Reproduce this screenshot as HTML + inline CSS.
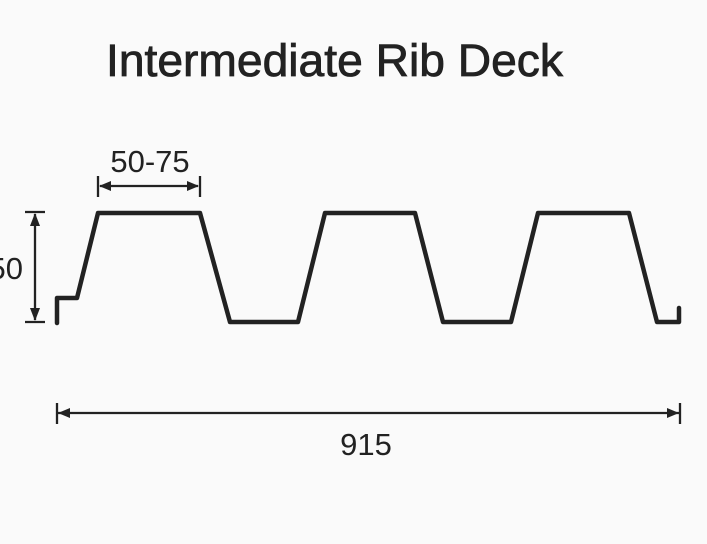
<!DOCTYPE html>
<html><head><style>html,body{margin:0;padding:0;background:#fafafa;}svg{display:block}</style></head>
<body>
<svg width="707" height="544" viewBox="0 0 707 544" xmlns="http://www.w3.org/2000/svg">
<rect width="707" height="544" fill="#fafafa"/>
<text x="106" y="76" font-family="Liberation Sans, sans-serif" font-size="45" fill="#222" stroke="#222" stroke-width="0.8" textLength="457" lengthAdjust="spacingAndGlyphs">Intermediate Rib Deck</text>
<path d="M57,323 L57,298 L77,298 L98,213 L200,213 L230,322 L298,322 L325,213 L415,213 L443,322 L511,322 L538,213 L629,213 L657,322 L679,322 L679,308" fill="none" stroke="#222" stroke-width="4.5" stroke-linejoin="round" stroke-linecap="round"/>
<g stroke="#222" stroke-width="2.3" fill="#222">
<line x1="98" y1="176" x2="98" y2="197"/><line x1="200" y1="176" x2="200" y2="197"/>
<line x1="100" y1="186" x2="198" y2="186"/>
<path d="M99,186 L111,181 L111,191Z" stroke="none"/><path d="M199,186 L187,181 L187,191Z" stroke="none"/>
<line x1="25" y1="212" x2="45" y2="212"/><line x1="25" y1="322" x2="45" y2="322"/>
<line x1="35" y1="214" x2="35" y2="320"/>
<path d="M35,213 L30,226 L40,226Z" stroke="none"/><path d="M35,321 L30,308 L40,308Z" stroke="none"/>
<line x1="57" y1="403" x2="57" y2="424"/><line x1="680" y1="403" x2="680" y2="424"/>
<line x1="58" y1="413" x2="679" y2="413"/>
<path d="M58,413 L70,408 L70,418Z" stroke="none"/><path d="M679,413 L667,408 L667,418Z" stroke="none"/>
</g>
<text x="150" y="172" text-anchor="middle" font-family="Liberation Sans, sans-serif" font-size="31" fill="#222">50-75</text>
<text x="23" y="279" text-anchor="end" font-family="Liberation Sans, sans-serif" font-size="31" fill="#222">50</text>
<text x="366" y="455" text-anchor="middle" font-family="Liberation Sans, sans-serif" font-size="31" fill="#222">915</text>
</svg>
</body></html>
